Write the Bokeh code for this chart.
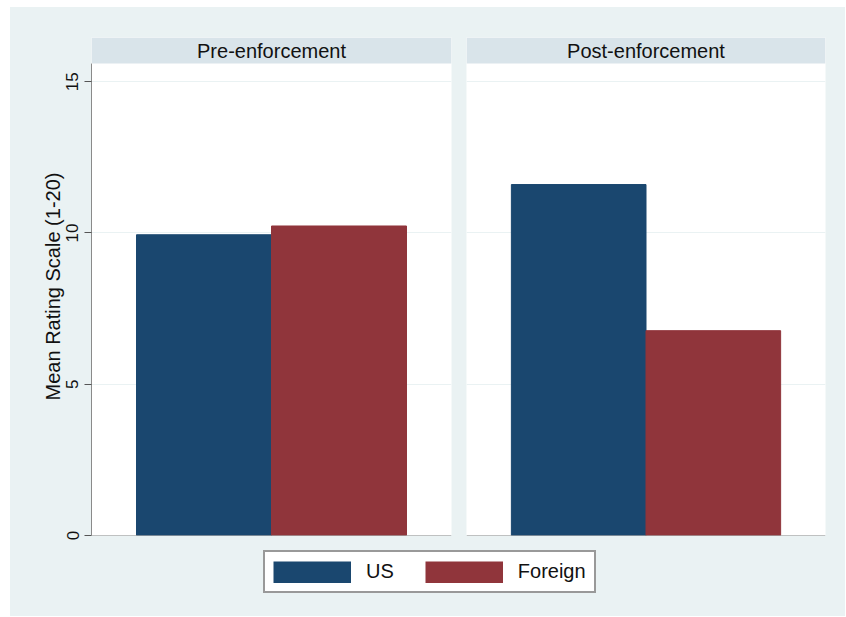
from bokeh.plotting import figure
from bokeh.models import (ColumnDataSource, FactorRange, Range1d, FixedTicker, BoxAnnotation,
                          Label, Span, Legend, LegendItem, Grid)
from bokeh.layouts import column, row
from bokeh.embed import file_html
from bokeh.resources import INLINE

# ---- data ----
panels = ["Pre-enforcement", "Post-enforcement"]
series = ["US", "Foreign"]
us_values = [9.94, 11.60]
foreign_values = [10.23, 6.77]
y_ticks = [0, 5, 10, 15]
y_label = "Mean Rating Scale (1-20)"

# ---- style ----
COLORS = ["#1a476f", "#90353b"]
OUTER = "#eaf2f3"
STRIP = "#d9e4ea"
GRID_C = "#eaf2f3"
AXIS_C = "#8a8a8a"
TICK_C = "#555555"
FONT = "Liberation Sans"
Y_TOP = 15.6
STRIP_H = 0.86
BG = {"background-color": OUTER}


def drop_grids(p):
    p.center = [r for r in p.center if not isinstance(r, Grid)]


def make_panel(i, show_axis, width, bl, br):
    src = ColumnDataSource(dict(series=series,
                                value=[us_values[i], foreign_values[i]],
                                color=COLORS))
    p = figure(x_range=FactorRange(factors=series, range_padding=1 / 3),
               y_range=Range1d(0, Y_TOP + STRIP_H),
               width=width, height=538,
               x_axis_location=None,
               y_axis_location="left" if show_axis else None,
               output_backend="svg", toolbar_location=None,
               min_border_left=bl, min_border_right=br,
               min_border_top=30, min_border_bottom=10, styles=BG)
    p.background_fill_color = "white"
    p.border_fill_color = OUTER
    p.outline_line_color = None
    drop_grids(p)
    p.add_layout(Grid(dimension=1, ticker=FixedTicker(ticks=y_ticks),
                      grid_line_color=GRID_C, bounds=(0, Y_TOP)))
    p.vbar(x="series", top="value", width=1.0, fill_color="color",
           line_color="color", source=src)
    if show_axis:
        ax = p.yaxis[0]
        ax.ticker = FixedTicker(ticks=y_ticks)
        ax.bounds = (0, Y_TOP)
        ax.major_label_orientation = "vertical"
        ax.major_tick_in = 0
        ax.major_tick_out = 7
        ax.minor_tick_line_color = None
        ax.axis_line_color = AXIS_C
        ax.major_tick_line_color = TICK_C
        ax.major_label_text_font = FONT
        ax.major_label_text_font_size = "17px"
        ax.major_label_text_color = "#111111"
        ax.major_label_standoff = 6
        ax.axis_label = y_label
        ax.axis_label_text_font = FONT
        ax.axis_label_text_font_size = "20px"
        ax.axis_label_text_font_style = "normal"
        ax.axis_label_text_color = "#111111"
        ax.axis_label_standoff = 0
    p.add_layout(BoxAnnotation(bottom=Y_TOP, fill_color=STRIP, fill_alpha=1.0,
                               line_alpha=0))
    p.add_layout(Label(x=1.0, y=Y_TOP + STRIP_H / 2, text=panels[i],
                       text_align="center", text_baseline="middle",
                       text_font=FONT, text_font_size="20px",
                       text_color="#111111"))
    p.add_layout(Span(location=0, dimension="width", line_color=AXIS_C,
                      line_width=1))
    return p


left = make_panel(0, True, 448, 81, 7)
right = make_panel(1, False, 387, 8, 20)

# legend strip: hidden key renderers, only their colour swatches are shown
lg = figure(width=835, height=71, x_axis_location=None, y_axis_location=None,
            x_range=Range1d(0, 1), y_range=Range1d(0, 1),
            output_backend="svg", toolbar_location=None, min_border=0,
            styles=BG)
drop_grids(lg)
lg.background_fill_color = OUTER
lg.border_fill_color = OUTER
lg.outline_line_color = None
r_us = lg.line(x=list(range(len(us_values))), y=us_values,
               line_color=COLORS[0], line_width=22, line_cap="butt")
r_fo = lg.line(x=list(range(len(foreign_values))), y=foreign_values,
               line_color=COLORS[1], line_width=22, line_cap="butt")
r_us.visible = False
r_fo.visible = False
legend = Legend(items=[LegendItem(label=series[0], renderers=[r_us]),
                       LegendItem(label=series[1], renderers=[r_fo])],
                orientation="horizontal", location=(253, 23),
                glyph_width=78, glyph_height=22, label_standoff=15, spacing=31,
                padding=8, margin=0, border_line_color="#333333",
                border_line_width=2, background_fill_color="white",
                background_fill_alpha=1.0,
                label_text_font=FONT, label_text_font_size="20px",
                label_text_color="#111111")
lg.add_layout(legend, "center")

layout = column(row(left, right, spacing=0, styles=BG), lg, spacing=0,
                margin=(7, 0, 0, 10), styles=BG)

with open("out.html", "w") as f:
    f.write(file_html(layout, INLINE))
